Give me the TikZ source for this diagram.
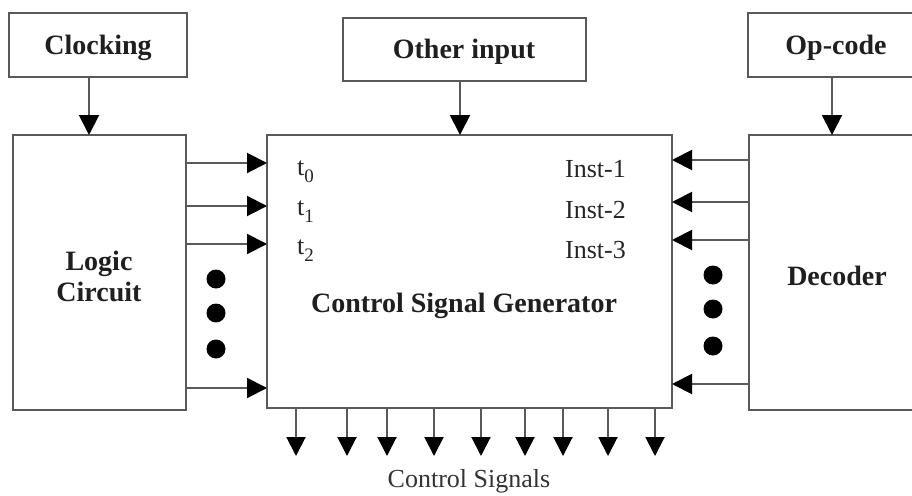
\documentclass[tikz,border=0pt]{standalone}
\usepackage{fontspec}
\setmainfont{Liberation Serif}
\usetikzlibrary{arrows.meta,calc}

\newcommand{\subidx}[1]{\raisebox{-7pt}{\fontsize{19}{19}\selectfont #1}}

\tikzset{
  wire/.style={draw=black!65, line width=2pt},
  box/.style={wire, rectangle, inner sep=0pt, outer sep=0pt, fill=white},
  lbl/.style={font=\fontsize{28}{30}\selectfont\bfseries, text=black!88, inner sep=0pt, align=center},
  sig/.style={font=\fontsize{26}{30}\selectfont, text=black!85, inner sep=0pt, anchor=base west},
  sigr/.style={sig, anchor=base east},
  feed/.style={wire, -{Triangle[width=20pt,length=20pt,color=black]}},
  outsig/.style={wire, -{Triangle[width=19pt,length=19pt,color=black]}},
  blob/.style={circle, fill=black, draw=none, minimum size=19pt, inner sep=0pt},
}

\begin{document}
\begin{tikzpicture}[x=1pt,y=-1pt]
  \useasboundingbox (0,0) rectangle (912,495);
  \clip (0,0) rectangle (912,495);

  % source boxes along the top
  \node[box, minimum width=178pt, minimum height=64pt, anchor=north west] (clk) at (9,13) {};
  \node[lbl] (clktxt) at (98,48) {Clocking};
  \node[box, minimum width=243pt, minimum height=63pt, anchor=north west] (oth) at (343,18) {};
  \node[lbl] (othtxt) at (464,52) {Other input};
  \node[box, minimum width=180pt, minimum height=64pt, anchor=north west] (op) at (748,13) {};
  \node[lbl] (optxt) at (836,48) {Op-code};

  % main blocks
  \node[box, minimum width=173pt, minimum height=275pt, anchor=north west] (logic) at (13,135) {};
  \node[lbl] (logictxt) at (99,276) {Logic\\[1pt]Circuit};
  \node[box, minimum width=405pt, minimum height=273pt, anchor=north west] (csg) at (267,135) {};
  \node[lbl] (csgtxt) at (464,306) {Control Signal Generator};
  \node[box, minimum width=180pt, minimum height=275pt, anchor=north west] (dec) at (749,135) {};
  \node[lbl] (dectxt) at (837,276) {Decoder};

  % labels inside the generator
  \node[sig] (t0) at (297,175) {t\subidx{0}};
  \node[sig] (t1) at (297,215) {t\subidx{1}};
  \node[sig] (t2) at (297,254) {t\subidx{2}};
  \node[sigr] (i1) at (626,177) {Inst-1};
  \node[sigr] (i2) at (626,218) {Inst-2};
  \node[sigr] (i3) at (626,258) {Inst-3};

  % top inputs
  \coordinate (ca) at ($(clk.south west)+(80,0)$);
  \draw[feed] (ca) -- (ca |- logic.north);
  \coordinate (oa) at ($(oth.south west)+(117,0)$);
  \draw[feed] (oa) -- (oa |- csg.north);
  \coordinate (pa) at ($(op.south west)+(84,0)$);
  \draw[feed] (pa) -- (pa |- dec.north);

  % timing lines from the logic circuit
  \foreach \yy in {163,206,244,388}
    \draw[feed] (logic.east |- 0,\yy) -- (csg.west |- 0,\yy);

  % instruction lines from the decoder
  \foreach \yy in {160,202,240,384}
    \draw[feed] (dec.west |- 0,\yy) -- (csg.east |- 0,\yy);

  % ellipsis dots
  \foreach \yy [count=\k] in {279,313,349}
    \node[blob] (ld\k) at (216,\yy) {};
  \foreach \yy [count=\k] in {275,309,346}
    \node[blob] (rd\k) at (713,\yy) {};

  % control signal outputs
  \foreach \xx [count=\k] in {296,347,387,434,481,525,563,608,655} {
    \coordinate (cs\k) at (\xx,456);
    \draw[outsig] (csg.south -| cs\k) -- (cs\k);
  }
  \node[font=\fontsize{26}{30}\selectfont, text=black!80, inner sep=0pt] (cstxt) at (469,481) {Control Signals};
\end{tikzpicture}
\end{document}
